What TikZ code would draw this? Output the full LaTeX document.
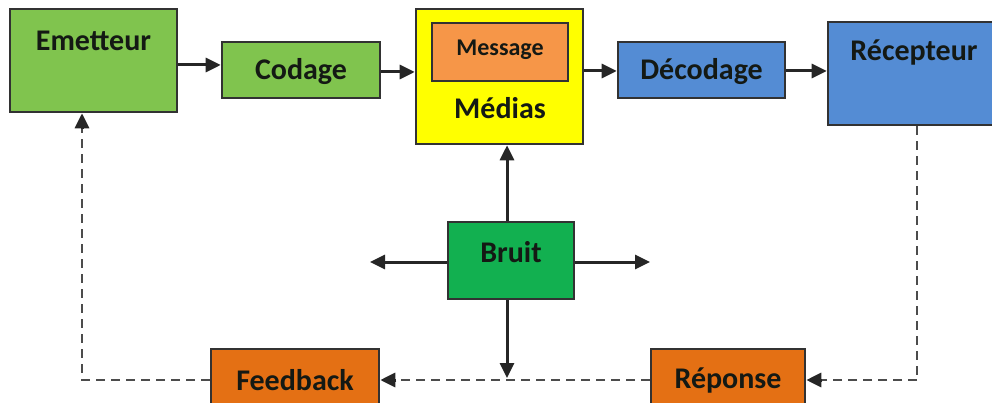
\documentclass[tikz,border=0pt]{standalone}
\usepackage{fontspec}
\setmainfont{Carlito}
\usetikzlibrary{arrows.meta}
\definecolor{lgreen}{RGB}{128,196,78}
\definecolor{dgreen}{RGB}{18,176,80}
\definecolor{mblue}{RGB}{84,140,212}
\definecolor{dorange}{RGB}{228,112,20}
\definecolor{lorange}{RGB}{246,150,72}
\definecolor{myellow}{RGB}{255,255,0}
\definecolor{edge}{RGB}{50,50,50}
\definecolor{txt}{RGB}{20,25,20}
\tikzset{
  box/.style={draw=edge, line width=2.6pt, inner sep=0pt},
  lbl/.style={font=\fontsize{30}{35}\selectfont\bfseries, text=txt, inner sep=0pt},
  arr/.style={draw=black!85, line width=3pt, -{Triangle[length=15pt,width=14pt]}},
  dsh/.style={draw=black!70, line width=2.8pt, dash pattern=on 9pt off 6pt},
}
\begin{document}
\begin{tikzpicture}[x=1pt,y=-1pt]
\useasboundingbox (0,0) rectangle (992,403);
% boxes
\node[box, fill=lgreen, minimum width=167pt, minimum height=103pt] (em) at (93.5,60.5) {};
\node[lbl] (emt) at (93.5,41) {Emetteur};
\node[box, fill=lgreen, minimum width=158pt, minimum height=56pt] (cod) at (301,70) {};
\node[lbl] (codt) at (301,72) {Codage};
\node[box, fill=myellow, minimum width=167pt, minimum height=135pt] (med) at (499.5,76.5) {};
\node[box, fill=lorange, minimum width=136pt, minimum height=58pt] (msg) at (500,52) {};
\node[lbl, font=\fontsize{24}{28}\selectfont\bfseries] (msgt) at (500,50) {Message};
\node[lbl] (medt) at (500,108) {Médias};
\node[box, fill=mblue, minimum width=167pt, minimum height=56pt] (dec) at (701.5,70) {};
\node[lbl] (dect) at (701.5,72) {Décodage};
\node[box, fill=mblue, minimum width=172pt, minimum height=103pt] (rec) at (914,73.5) {};
\node[lbl] (rect) at (914,53) {Récepteur};
\node[box, fill=dgreen, minimum width=126pt, minimum height=77pt] (br) at (511,260.5) {};
\node[lbl] (brt) at (511,252) {Bruit};
\node[box, fill=dorange, minimum width=168pt, minimum height=62pt] (fb) at (295,380) {};
\node[lbl] (fbt) at (295,380) {Feedback};
\node[box, fill=dorange, minimum width=154pt, minimum height=62pt] (rep) at (728,380) {};
\node[lbl] (rept) at (728,380) {Réponse};
% free ends
\coordinate (bl) at (370,262);
\coordinate (brr) at (650,262);
\coordinate (bd) at (507,378);
\coordinate (c1) at (917,380);
\coordinate (c2) at (82,380);
% solid arrows
\draw[arr] (em.east |- 0,65) -- (cod.west |- 0,65);
\draw[arr] (cod.east |- 0,72) -- (med.west |- 0,72);
\draw[arr] (med.east |- 0,71) -- (dec.west |- 0,71);
\draw[arr] (dec.east |- 0,71) -- (rec.west |- 0,71);
\draw[arr] (br.north -| bd) -- (med.south -| bd);
\draw[arr] (br.west |- bl) -- (bl);
\draw[arr] (br.east |- brr) -- (brr);
\draw[arr] (br.south -| bd) -- (bd);
% dashed feedback loop
\draw[dsh] (rec.south -| c1) -- (c1);
\draw[dsh] (c1) -- ([xshift=16pt]rep.east);
\draw[arr] ([xshift=16pt]rep.east) -- (rep.east);
\draw[dsh] (rep.west) -- ([xshift=16pt]fb.east);
\draw[arr] ([xshift=16pt]fb.east) -- (fb.east);
\draw[dsh] (fb.west) -- (c2) -- ([yshift=-16pt]em.south -| c2);
\draw[arr] ([yshift=-16pt]em.south -| c2) -- (em.south -| c2);
\end{tikzpicture}
\end{document}
